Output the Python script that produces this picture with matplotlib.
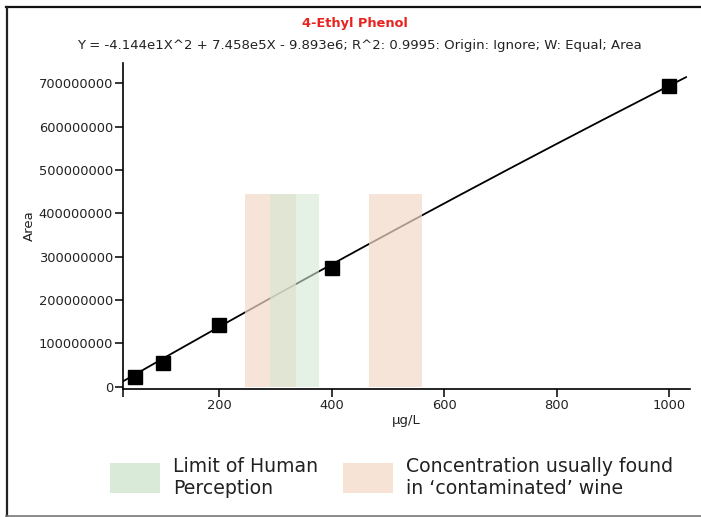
import numpy as np
import matplotlib
matplotlib.use("Agg")
import matplotlib.pyplot as plt
from matplotlib.patches import Rectangle
from matplotlib.lines import Line2D

# -----------------------------
# data
# -----------------------------
conc = [50, 100, 200, 400, 1000]                       # ug/L
area = [2.2e7, 5.4e7, 1.42e8, 2.74e8, 6.94e8]

# quadratic fit as printed on the chart
fit_a, fit_b, fit_c = -4.144e1, 7.458e5, -9.893e6
fit_x_range = (30, 1030)

perception_band = (291, 377)                         # green
contaminated_bands = [(246, 336), (467, 560)]        # peach
band_top = 4.45e8

yticks = [0, 100000000, 200000000, 300000000, 400000000,
          500000000, 600000000, 700000000]
xticks = [200, 400, 600, 800, 1000]

W, H = 701, 517
fig = plt.figure(figsize=(W / 100, H / 100), dpi=100)
ax = fig.add_axes([123.3 / W, 1 - 388.7 / H, (690 - 123.3) / W, (388.7 - 63) / H])

# fit curve
xs = np.linspace(*fit_x_range, 200)
ax.plot(xs, fit_a * xs**2 + fit_b * xs + fit_c, color="black", lw=1.3, zorder=1)

# shaded ranges drawn on top of the line (semi transparent)
for lo, hi in contaminated_bands:
    ax.fill_between([lo, hi], 0, band_top, color="#f3d9c9", alpha=0.7, lw=0, zorder=2)
lo, hi = perception_band
ax.fill_between([lo, hi], 0, band_top, color="#d4e8d2", alpha=0.6, lw=0, zorder=2)

ax.plot(conc, area, ls="none", marker="s", ms=9.5, color="black", zorder=3)

ax.set_xlim(30, 1037)
ax.set_ylim(-5e6, 7.47e8)
ax.set_xticks(xticks)
ax.set_xticklabels([str(t) for t in xticks])
ax.set_yticks(yticks)
ax.set_yticklabels([str(t) for t in yticks])
ax.set_xticks([30], minor=True)
ax.tick_params(which="both", direction="out", length=6, width=1.1, labelsize=9.4, pad=1.5,
               colors="black", labelcolor="#222222")

for s in ("top", "right"):
    ax.spines[s].set_visible(False)
for s in ("left", "bottom"):
    ax.spines[s].set_linewidth(1.2)

ax.set_xlabel("µg/L", fontsize=9.5, color="#222222", labelpad=1)
ax.set_ylabel("Area", fontsize=9.5, color="#222222", labelpad=2)

# titles
fig.text(355 / W, 1 - 24 / H, "4-Ethyl Phenol", ha="center", va="center", color="#e8221f",
         fontsize=9.3, fontweight="bold", family=["Liberation Sans Narrow", "DejaVu Sans"])
fig.text(359 / W, 1 - 46 / H,
         "Y = -4.144e1X^2 + 7.458e5X - 9.893e6; R^2: 0.9995: Origin: Ignore; W: Equal; Area",
         ha="center", va="center", fontsize=9.5, color="#222222")

# legend below the plot
fig.patches.append(Rectangle((110 / W, 1 - 493 / H), 50 / W, 30 / H, transform=fig.transFigure,
                             color="#d9ead8", lw=0))
fig.text(173 / W, 1 - 477.5 / H, "Limit of Human\nPerception", ha="left", va="center",
         fontsize=13.6, color="#222222", linespacing=1.15)
fig.patches.append(Rectangle((343 / W, 1 - 493 / H), 50 / W, 30 / H, transform=fig.transFigure,
                             color="#f7e2d6", lw=0))
fig.text(406 / W, 1 - 477.5 / H, "Concentration usually found\nin \u2018contaminated\u2019 wine",
         ha="left", va="center", fontsize=13.6, color="#222222", linespacing=1.15)

# outer frame
fig.lines.append(Line2D([6 / W, 1], [1 - 7 / H, 1 - 7 / H], transform=fig.transFigure,
                        color="#111111", lw=1.6))
fig.lines.append(Line2D([6.5 / W, 6.5 / W], [1 - 7 / H, 1 - 516 / H], transform=fig.transFigure,
                        color="#222222", lw=1.6))
fig.lines.append(Line2D([6 / W, 1], [1 - 516 / H, 1 - 516 / H], transform=fig.transFigure,
                        color="#777777", lw=1.2))

fig.savefig("out.png", dpi=100)
